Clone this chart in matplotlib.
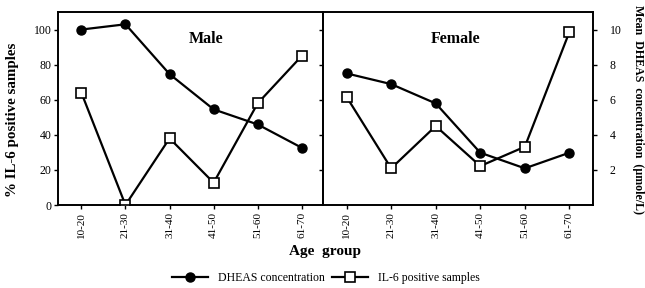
import matplotlib
matplotlib.use("Agg")
import matplotlib.pyplot as plt
from matplotlib.lines import Line2D

plt.rcParams['font.family'] = ['Liberation Serif', 'DejaVu Serif']

age_groups = ["10-20", "21-30", "31-40", "41-50", "51-60", "61-70"]
male_dheas = [10.0, 10.3, 7.46, 5.45, 4.59, 3.26]       # µmole/L
male_il6 = [64, 0, 38, 12.7, 58, 85]                      # %
female_dheas = [7.5, 6.89, 5.79, 2.98, 2.09, 2.98]      # µmole/L
female_il6 = [61.6, 20.9, 45, 22.2, 33.2, 98.6]          # %
left_ticks = [0, 20, 40, 60, 80, 100]
right_ticks = [2, 4, 6, 8, 10]

fig = plt.figure(figsize=(6.45, 2.88), dpi=100)
L, D, R = 58/645, 323/645, 593/645
B, T = 1 - 205/288, 1 - 12/288
axL = fig.add_axes([L, B, D - L, T - B])
axR = fig.add_axes([D, B, R - D, T - B])
twL = axL.twinx()
twR = axR.twinx()

x = list(range(len(age_groups)))
lw = 1.6
circ = dict(color='black', lw=lw, marker='o', markersize=6.5, markerfacecolor='black',
            markeredgecolor='black', zorder=3)
sq = dict(color='black', lw=lw, marker='s', markersize=7, markerfacecolor='white',
          markeredgecolor='black', markeredgewidth=1.2, zorder=4)

axL.plot(x, male_il6, **sq)
twL.plot(x, male_dheas, **circ)
axR.plot(x, female_il6, **sq)
twR.plot(x, female_dheas, **circ)

for ax in (axL, axR):
    ax.set_xlim(-0.53, 5.48)
    ax.set_ylim(0, 110)
    ax.set_xticks(x)
    ax.set_xticklabels(age_groups, rotation=90, fontsize=8)
    ax.tick_params(axis='x', direction='out', length=3, width=1, pad=2)
    for s in ax.spines.values():
        s.set_linewidth(1.2)
for tw in (twL, twR):
    tw.set_ylim(0, 11)
    tw.set_zorder(tw.get_zorder() + 1)
    for s in tw.spines.values():
        s.set_linewidth(1.2)
axR.set_xlim(-0.53, 5.53)

axL.set_yticks(left_ticks)
axL.set_yticklabels([str(v) for v in left_ticks], fontsize=8.5)
axL.tick_params(axis='y', direction='out', length=3, width=1, pad=1.5)
twL.set_yticks([])

axR.set_yticks(left_ticks[1:])
axR.set_yticklabels([])
axR.tick_params(axis='y', direction='out', length=3, width=1)
twR.set_yticks(right_ticks)
twR.set_yticklabels([str(v) for v in right_ticks], fontsize=8.5)
twR.tick_params(axis='y', direction='out', length=3, width=1, pad=9)

axL.set_ylabel("% IL-6 positive samples", fontsize=10.8, fontweight='bold')
axL.yaxis.set_label_coords(-0.147, 0.44)
twR.set_ylabel("Mean  DHEAS  concentration  (\u00b5mole/L)", fontsize=8.6, fontweight='bold',
               rotation=-90)
twR.yaxis.set_label_coords(1.19, 0.495)

axL.text(0.56, 0.86, "Male", transform=axL.transAxes, fontsize=11.5, fontweight='bold',
         ha='center', va='center')
axR.text(0.49, 0.86, "Female", transform=axR.transAxes, fontsize=11.5, fontweight='bold',
         ha='center', va='center')

fig.text(D + 0.003, 1 - 252/288, "Age  group", fontsize=11, fontweight='bold', ha='center',
         va='center')

handles = [Line2D([], [], **circ), Line2D([], [], **sq)]
fig.legend(handles, ["DHEAS concentration", "IL-6 positive samples"], loc='center',
           bbox_to_anchor=(326/645, 1 - 278/288), ncol=2, frameon=False, fontsize=8.5,
           handlelength=3.0, columnspacing=0.6, handletextpad=0.9)

fig.savefig("out.png", dpi=100)
